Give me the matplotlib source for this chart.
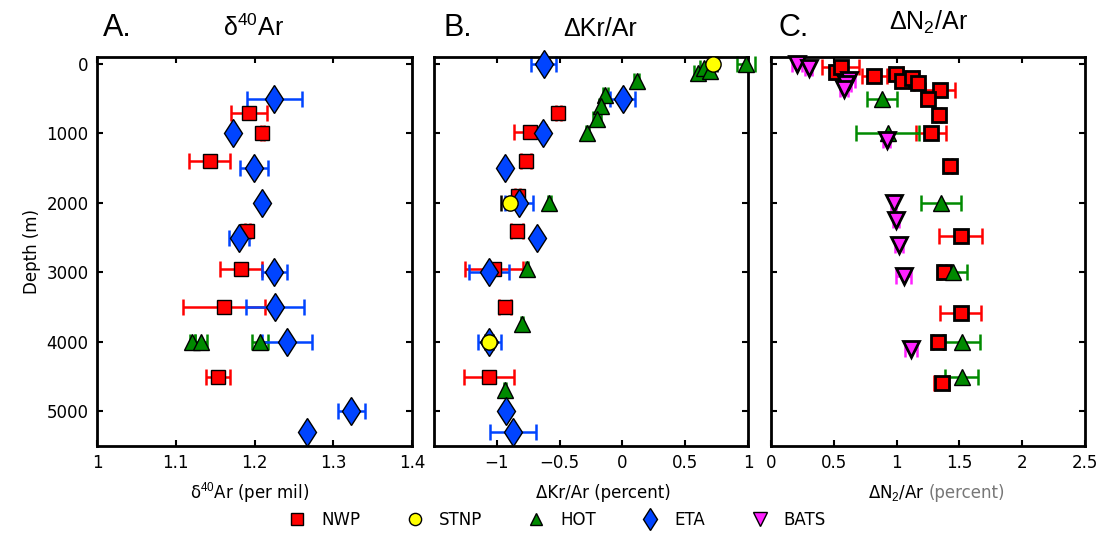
import matplotlib
matplotlib.use("Agg")
import matplotlib.pyplot as plt
from matplotlib.lines import Line2D

plt.rcParams['font.family'] = ['DejaVu Sans']
plt.rcParams['axes.unicode_minus'] = True

# ---- panel A: d40Ar (per mil) ----
A_nwp_depth = [700, 1000, 1400, 2400, 2950, 3500, 4500]
A_nwp_val = [1.193, 1.210, 1.143, 1.191, 1.183, 1.161, 1.154]
A_nwp_err = [0.0225, 0.002, 0.026, 0.003, 0.027, 0.052, 0.015]

A_hot_depth = [4000, 4000, 4000]
A_hot_val = [1.121, 1.132, 1.207]
A_hot_err = [0.003, 0.0075, 0.01]

A_eta_depth = [500, 1000, 1500, 2000, 2500, 3000, 3500, 4000, 5000, 5300]
A_eta_val = [1.225, 1.173, 1.1996, 1.210, 1.180, 1.225, 1.226, 1.241, 1.323, 1.267]
A_eta_err = [0.035, 0.0, 0.018, 0.002, 0.013, 0.016, 0.037, 0.032, 0.017, 0.003]

# ---- panel B: dKr/Ar (percent) ----
B_nwp_depth = [700, 980, 1400, 1900, 2400, 2950, 3500, 4500]
B_nwp_val = [-0.511, -0.734, -0.771, -0.835, -0.840, -1.021, -0.936, -1.059]
B_nwp_err = [0.02, 0.125, 0.04, 0.02, 0.05, 0.23, 0.05, 0.20]

B_stnp_depth = [0, 2000, 4000]
B_stnp_val = [0.72, -0.894, -1.061]
B_stnp_err = [0.03, 0.07, 0.03]

B_hot_depth = [0, 125, 55, 100, 250, 450, 600, 800, 1000, 2000, 2950, 3750, 4700]
B_hot_val = [0.985, 0.60, 0.65, 0.70, 0.114, -0.138, -0.168, -0.202, -0.279,
             -0.582, -0.761, -0.798, -0.936]
B_hot_err = [0.07, 0.03, 0.03, 0.03, 0.02, 0.02, 0.02, 0.03, 0.01, 0.01, 0.01, 0.01, 0.01]

B_eta_depth = [0, 500, 1000, 1500, 2000, 2500, 3000, 4000, 5000, 5300]
B_eta_val = [-0.625, 0.003, -0.630, -0.936, -0.824, -0.676, -1.064, -1.06, -0.93, -0.87]
B_eta_err = [0.10, 0.10, 0.01, 0.01, 0.11, 0.02, 0.16, 0.09, 0.02, 0.18]

# ---- panel C: dN2/Ar (percent) ----
C_nwp_depth = [120, 50, 170, 140, 245, 200, 275, 370, 505, 730, 1000, 1470,
               2480, 3000, 3580, 4000, 4590]
C_nwp_val = [0.517, 0.554, 0.822, 0.997, 1.045, 1.122, 1.170, 1.345, 1.247, 1.334,
             1.276, 1.424, 1.509, 1.377, 1.509, 1.332, 1.361]
C_nwp_err = [0.03, 0.15, 0.1, 0.05, 0.05, 0.05, 0.03, 0.12, 0.05, 0.02, 0.12,
             0.02, 0.17, 0.02, 0.16, 0.04, 0.06]

C_hot_depth = [500, 1000, 2000, 3000, 4000, 4500]
C_hot_val = [0.881, 0.928, 1.353, 1.451, 1.52, 1.517]
C_hot_err = [0.12, 0.25, 0.16, 0.11, 0.14, 0.13]

C_bats_depth = [0, 60, 230, 290, 360, 1100, 2000, 2250, 2600, 3050, 4100]
C_bats_val = [0.21, 0.30, 0.62, 0.60, 0.58, 0.92, 0.976, 0.995, 1.021, 1.056, 1.114]
C_bats_err = [0.04, 0.03, 0.05, 0.04, 0.03, 0.03, 0.02, 0.02, 0.03, 0.06, 0.05]

labels = ['NWP', 'STNP', 'HOT', 'ETA', 'BATS']

RED = '#ff0000'
YEL = '#ffff00'
GRN = '#008a00'
BLU = '#0044ff'
MAG = '#ff22ff'

sty = {
    'NWP': dict(marker='s', mfc=RED, ecolor=RED, ms=10),
    'STNP': dict(marker='o', mfc=YEL, ecolor='k', ms=11),
    'HOT': dict(marker='^', mfc=GRN, ecolor=GRN, ms=11),
    'ETA': dict(marker='d', mfc=BLU, ecolor=BLU, ms=14.5),
    'BATS': dict(marker='v', mfc=MAG, ecolor=MAG, ms=12),
}


def pts(ax, name, x, y, e, mew=1.0):
    s = sty[name]
    ax.errorbar(x, y, xerr=e, fmt='none', ecolor=s['ecolor'], elinewidth=1.8,
                capsize=6, capthick=1.8, zorder=2)
    ax.plot(x, y, ls='none', marker=s['marker'], mfc=s['mfc'], mec='k',
            ms=s['ms'], mew=mew, zorder=3)


fig = plt.figure(figsize=(11.04, 5.37), dpi=100)
axA = fig.add_axes([0.0879, 0.1695, 0.2853, 0.7244])
axB = fig.add_axes([0.3931, 0.1695, 0.2844, 0.7244])
axC = fig.add_axes([0.6984, 0.1695, 0.2844, 0.7244])

pts(axA, 'NWP', A_nwp_val, A_nwp_depth, A_nwp_err)
pts(axA, 'HOT', A_hot_val, A_hot_depth, A_hot_err)
pts(axA, 'ETA', A_eta_val, A_eta_depth, A_eta_err)

pts(axB, 'NWP', B_nwp_val, B_nwp_depth, B_nwp_err)
pts(axB, 'HOT', B_hot_val, B_hot_depth, B_hot_err)
pts(axB, 'ETA', B_eta_val, B_eta_depth, B_eta_err)
pts(axB, 'STNP', B_stnp_val, B_stnp_depth, B_stnp_err)

pts(axC, 'NWP', C_nwp_val, C_nwp_depth, C_nwp_err, mew=2.0)
pts(axC, 'HOT', C_hot_val, C_hot_depth, C_hot_err)
pts(axC, 'BATS', C_bats_val, C_bats_depth, C_bats_err, mew=2.0)

for ax in (axA, axB, axC):
    ax.set_ylim(5500, -100)
    ax.set_yticks([0, 1000, 2000, 3000, 4000, 5000])
    ax.tick_params(direction='in', top=True, right=True, length=4, width=1.5,
                   labelsize=12, pad=6)
    for sp in ax.spines.values():
        sp.set_linewidth(2)
    for c in ax.get_children():
        if isinstance(c, Line2D):
            c.set_clip_on(False)

axA.set_xlim(1, 1.4)
axA.set_xticks([1, 1.1, 1.2, 1.3, 1.4])
axA.set_xticklabels(['1', '1.1', '1.2', '1.3', '1.4'])
axA.set_ylabel('Depth (m)', fontsize=12)

axB.set_xlim(-1.5, 1)
axB.set_xticks([-1, -0.5, 0, 0.5, 1])
axB.set_xticklabels(['\u22121', '\u22120.5', '0', '0.5', '1'])
axB.set_yticklabels([])

axC.set_xlim(0, 2.5)
axC.set_xticks([0, 0.5, 1, 1.5, 2, 2.5])
axC.set_xticklabels(['0', '0.5', '1', '1.5', '2', '2.5'])
axC.set_yticklabels([])

# panel titles
tfam = ['Liberation Sans', 'DejaVu Sans']
plt.rcParams['mathtext.fontset'] = 'custom'
plt.rcParams['mathtext.rm'] = 'Liberation Sans'
by = 1 - 36 / 537
fig.text(103 / 1104, by, 'A.', fontsize=22, family=tfam, va='baseline')
fig.text(253 / 1104, by, '\u03b4$^{\\mathrm{40}}$Ar', fontsize=18, family=tfam,
         va='baseline', ha='center')
fig.text(444 / 1104, by, 'B.', fontsize=22, family=tfam, va='baseline')
fig.text(600 / 1104, by, '\u0394Kr/Ar', fontsize=18, family=tfam,
         va='baseline', ha='center')
fig.text(778 / 1104, by, 'C.', fontsize=22, family=tfam, va='baseline')
fig.text(928 / 1104, 1 - 30 / 537, '\u0394N$_{\\mathrm{2}}$/Ar', fontsize=18,
         family=tfam, va='baseline', ha='center')

# x labels
ly = 1 - 493 / 537
fig.text(250 / 1104, ly, '\u03b4$^{\\mathrm{40}}$Ar (per mil)', fontsize=12,
         ha='center', va='center')
fig.text(603 / 1104, ly, '\u0394Kr/Ar (percent)', fontsize=12, ha='center', va='center')
fig.text(925 / 1104, ly, '\u0394N$_{\\mathrm{2}}$/Ar', fontsize=12, ha='right', va='center')
fig.text(929 / 1104, ly, '(percent)', fontsize=12, ha='left', va='center', color='#777777')

# legend
handles = [Line2D([], [], ls='none', marker=sty[n]['marker'], mfc=sty[n]['mfc'],
                  mec='k', ms=sty[n]['ms'] * 0.8, mew=1.0) for n in labels]
fig.legend(handles, labels, loc='center', bbox_to_anchor=(0.503, 1 - 520 / 537),
           ncol=5, frameon=False, fontsize=12, columnspacing=2.5, handletextpad=0.7,
           handlelength=1.5)

fig.savefig('out.png', dpi=100)
